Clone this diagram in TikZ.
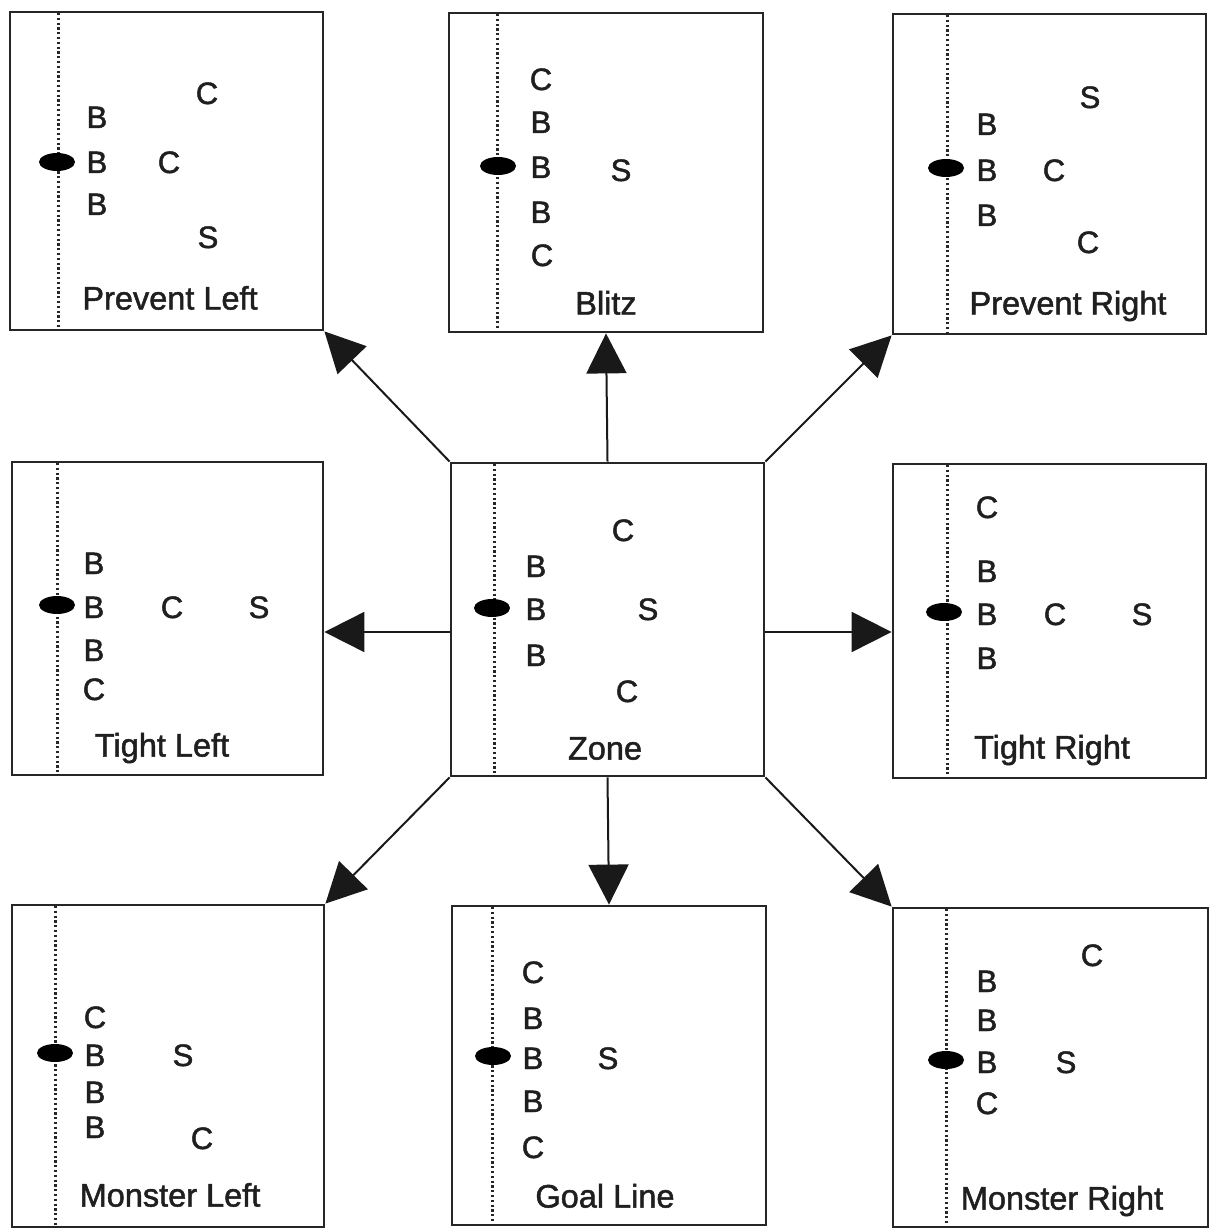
\documentclass[tikz,border=0pt]{standalone}
\usepackage{fontspec}
\setmainfont{Liberation Sans}
\newfontfamily\platefont[FakeBold=1.5]{Liberation Sans}
\usetikzlibrary{arrows.meta}
\tikzset{
  panel/.style={draw=black!85, line width=2.8pt, rectangle, inner sep=0pt},
  los/.style={black!85, line width=3pt, dash pattern=on 2.2pt off 2.6pt},
  ball/.style={fill=black},
  pl/.style={inner sep=0pt, text height=22pt, text depth=0pt, text=black!88, font=\platefont\fontsize{31}{36}\selectfont},
  lab/.style={pl, font=\platefont\fontsize{32.5}{38}\selectfont, text height=23pt},
  arr/.style={black!90, line width=2pt, -{Triangle[width=40pt,length=40pt]}, shorten >=0pt},
}
\begin{document}
\begin{tikzpicture}[x=1pt,y=-1pt]
\useasboundingbox[fill=white] (0,0) rectangle (1210,1230);

% panels
\node[panel, minimum width=313pt, minimum height=318pt] (pleft) at (166.5,171) {};
\node[panel, minimum width=314pt, minimum height=319pt] (blitz) at (606,172.5) {};
\node[panel, minimum width=313pt, minimum height=320pt] (pright) at (1049.5,174) {};
\node[panel, minimum width=311pt, minimum height=313pt] (tleft) at (167.5,618.5) {};
\node[panel, minimum width=313pt, minimum height=313pt] (zone) at (607.5,619.5) {};
\node[panel, minimum width=313pt, minimum height=314pt] (tright) at (1049.5,621) {};
\node[panel, minimum width=312pt, minimum height=322pt] (mleft) at (168,1066) {};
\node[panel, minimum width=314pt, minimum height=319pt] (goal) at (609,1065.5) {};
\node[panel, minimum width=315pt, minimum height=319pt] (mright) at (1050.5,1067.5) {};

% lines of scrimmage
\draw[los] (58,13) -- (58,329);
\draw[los] (497,14) -- (497,331);
\draw[los] (947,15) -- (947,333);
\draw[los] (57,463) -- (57,774);
\draw[los] (494,464) -- (494,775);
\draw[los] (947,465) -- (947,777);
\draw[los] (55,906) -- (55,1226);
\draw[los] (492,907) -- (492,1224);
\draw[los] (946,909) -- (946,1226);

% balls
\fill[ball] (57,162) ellipse [x radius=18pt, y radius=9pt];
\fill[ball] (498,166) ellipse [x radius=18pt, y radius=9pt];
\fill[ball] (946,168) ellipse [x radius=18pt, y radius=9pt];
\fill[ball] (57,605) ellipse [x radius=18pt, y radius=9pt];
\fill[ball] (492,608) ellipse [x radius=18pt, y radius=9pt];
\fill[ball] (944,612) ellipse [x radius=18pt, y radius=9pt];
\fill[ball] (55,1053) ellipse [x radius=18pt, y radius=9pt];
\fill[ball] (493,1056) ellipse [x radius=18pt, y radius=9pt];
\fill[ball] (946,1060) ellipse [x radius=18pt, y radius=9pt];

% Prevent Left
\node[pl] (pl1) at (207,93) {C};
\node[pl] (pl2) at (97,117) {B};
\node[pl] (pl3) at (97,162) {B};
\node[pl] (pl4) at (169,162) {C};
\node[pl] (pl5) at (97,204) {B};
\node[pl] (pl6) at (208,237) {S};
\node[lab] (pll) at (170,298) {Prevent Left};

% Blitz
\node[pl] (bl1) at (541,79) {C};
\node[pl] (bl2) at (541,122) {B};
\node[pl] (bl3) at (541,167) {B};
\node[pl] (bl4) at (621,170) {S};
\node[pl] (bl5) at (541,212) {B};
\node[pl] (bl6) at (542,255) {C};
\node[lab] (bll) at (606,303) {Blitz};

% Prevent Right
\node[pl] (pr1) at (1090,97) {S};
\node[pl] (pr2) at (987,124) {B};
\node[pl] (pr3) at (987,170) {B};
\node[pl] (pr4) at (1054,170) {C};
\node[pl] (pr5) at (987,215) {B};
\node[pl] (pr6) at (1088,242) {C};
\node[lab] (prl) at (1068,303) {Prevent Right};

% Tight Left
\node[pl] (tl1) at (94,563) {B};
\node[pl] (tl2) at (94,607) {B};
\node[pl] (tl3) at (172,607) {C};
\node[pl] (tl4) at (259,607) {S};
\node[pl] (tl5) at (94,650) {B};
\node[pl] (tl6) at (94,689) {C};
\node[lab] (tll) at (162,745) {Tight Left};

% Zone
\node[pl] (z1) at (623,530) {C};
\node[pl] (z2) at (536,566) {B};
\node[pl] (z3) at (536,609) {B};
\node[pl] (z4) at (648,609) {S};
\node[pl] (z5) at (536,655) {B};
\node[pl] (z6) at (627,691) {C};
\node[lab] (zl) at (605,748) {Zone};

% Tight Right
\node[pl] (tr1) at (987,507) {C};
\node[pl] (tr2) at (987,571) {B};
\node[pl] (tr3) at (987,614) {B};
\node[pl] (tr4) at (1055,614) {C};
\node[pl] (tr5) at (1142,614) {S};
\node[pl] (tr6) at (987,658) {B};
\node[lab] (trl) at (1052,747) {Tight Right};

% Monster Left
\node[pl] (ml1) at (95,1017) {C};
\node[pl] (ml2) at (95,1055) {B};
\node[pl] (ml3) at (183,1055) {S};
\node[pl] (ml4) at (95,1092) {B};
\node[pl] (ml5) at (95,1127) {B};
\node[pl] (ml6) at (202,1138) {C};
\node[lab] (mll) at (170,1195) {Monster Left};

% Goal Line
\node[pl] (g1) at (533,972) {C};
\node[pl] (g2) at (533,1018) {B};
\node[pl] (g3) at (533,1058) {B};
\node[pl] (g4) at (608,1058) {S};
\node[pl] (g5) at (533,1101) {B};
\node[pl] (g6) at (533,1147) {C};
\node[lab] (gl) at (605,1196) {Goal Line};

% Monster Right
\node[pl] (mr1) at (1092,955) {C};
\node[pl] (mr2) at (987,981) {B};
\node[pl] (mr3) at (987,1020) {B};
\node[pl] (mr4) at (987,1062) {B};
\node[pl] (mr5) at (1066,1062) {S};
\node[pl] (mr6) at (987,1103) {C};
\node[lab] (mrl) at (1062,1198) {Monster Right};

% arrows
\draw[arr] (zone.north west) -- (pleft.south east);
\draw[arr] (zone.north) -- (blitz.south);
\draw[arr] (zone.north east) -- (pright.south west);
\draw[arr] (zone.west |- 0,632) -- (tleft.east |- 0,632);
\draw[arr] (zone.east |- 0,632) -- (tright.west |- 0,632);
\draw[arr] (zone.south west) -- (mleft.north east);
\draw[arr] (zone.south) -- (goal.north);
\draw[arr] (zone.south east) -- (mright.north west);
\end{tikzpicture}
\end{document}
